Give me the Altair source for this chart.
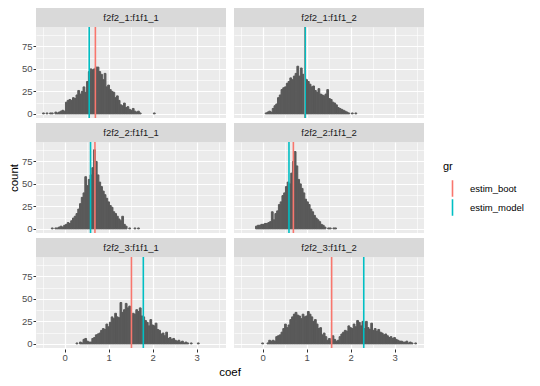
import altair as alt
import pandas as pd

BIN_W = 0.04
F2 = ["f2f2_1", "f2f2_1", "f2f2_2", "f2f2_2", "f2f2_3", "f2f2_3"]
F1 = ["f1f1_1", "f1f1_2", "f1f1_1", "f1f1_2", "f1f1_1", "f1f1_2"]

# first bin centre of each panel, then counts per 0.04-wide bin
start_centres = [-0.48, 0.08, -0.28, -0.14, 0.28, 0.00]
counts_11 = [1, 0, 1, 0, 1, 1, 0, 2, 1, 2, 3, 4, 3, 13, 15, 16, 15, 18, 17, 21,
             26, 22, 25, 30, 24, 36, 47, 50, 49, 50, 52, 52, 47, 44, 38, 45, 30, 32, 27, 25,
             24, 18, 20, 15, 10, 9, 12, 7, 8, 5, 4, 6, 3, 2, 3, 1, 0, 0, 0, 0, 0, 0, 0, 1]
counts_12 = [1, 2, 3, 2, 6, 9, 11, 18, 21, 27, 29, 30, 34, 36, 40, 38, 42, 45, 53, 42,
             51, 44, 40, 38, 36, 33, 30, 31, 26, 24, 28, 22, 21, 20, 22, 27, 17, 16, 13, 12,
             10, 7, 6, 5, 4, 3, 2, 1, 0, 1, 0, 1]
counts_21 = [1, 0, 1, 1, 2, 3, 2, 4, 5, 7, 6, 9, 12, 14, 17, 22, 28, 35, 40, 58,
             48, 55, 60, 68, 88, 75, 60, 52, 47, 42, 38, 34, 30, 26, 24, 19, 17, 14, 11, 9,
             14, 5, 3, 0, 1, 0, 0, 1, 0, 1]
counts_22 = [3, 4, 4, 5, 5, 6, 6, 7, 8, 19, 10, 17, 20, 27, 30, 37, 40, 47, 52, 50,
             62, 75, 86, 70, 55, 50, 45, 40, 33, 30, 27, 22, 19, 15, 12, 10, 8, 5, 4, 2,
             0, 1, 1, 0, 1, 1]
counts_31 = [1, 0, 2, 1, 5, 6, 3, 2, 2, 6, 7, 10, 11, 12, 15, 17, 16, 22, 19, 24,
             30, 28, 34, 30, 29, 46, 35, 38, 45, 40, 42, 32, 34, 33, 38, 36, 40, 31, 30, 26,
             24, 20, 27, 21, 20, 23, 16, 15, 11, 12, 9, 13, 6, 7, 5, 6, 4, 3, 4, 2,
             3, 1, 2, 1, 0, 1, 0, 0, 0, 1]
counts_32 = [1, 0, 0, 1, 4, 3, 4, 3, 8, 9, 10, 13, 17, 22, 18, 21, 27, 30, 33, 35,
             32, 31, 28, 33, 30, 31, 36, 33, 30, 25, 27, 22, 17, 18, 10, 12, 8, 4, 6, 3,
             9, 5, 3, 4, 8, 11, 13, 15, 14, 20, 18, 17, 22, 19, 26, 24, 20, 25, 17, 25,
             18, 16, 23, 15, 17, 14, 16, 13, 12, 10, 11, 9, 7, 8, 6, 7, 5, 4, 3, 3,
             2, 2, 3, 1, 2, 1, 0, 1]
all_counts = [counts_11, counts_12, counts_21, counts_22, counts_31, counts_32]

estim_boot = [0.70, 0.96, 0.69, 0.70, 1.52, 1.57]
estim_model = [0.56, 0.97, 0.59, 0.60, 1.79, 2.30]
groups = ["estim_boot", "estim_model"]
colors = ["#F8766D", "#00BFC4"]

rows = []
for i in range(6):
    label = F2[i] + ":" + F1[i]
    for j, c in enumerate(all_counts[i]):
        if c > 0:
            left = start_centres[i] - BIN_W / 2 + j * BIN_W
            rows.append(dict(kind="hist", f2=F2[i], f1=F1[i], label=label,
                             x=left, x2=left + BIN_W, count=c, gr=None))
    rows.append(dict(kind="line", f2=F2[i], f1=F1[i], label=label, x=estim_boot[i], gr=groups[0]))
    rows.append(dict(kind="line", f2=F2[i], f1=F1[i], label=label, x=estim_model[i], gr=groups[1]))
    rows.append(dict(kind="strip", f2=F2[i], f1=F1[i], label=label))
df = pd.DataFrame(rows)

W, H, STRIP = 190, 91, 19
FONT = "Liberation Sans"

x_scale = alt.Scale(domain=[-0.65, 3.67], nice=False, zero=False)
y_scale = alt.Scale(domain=[-4.6, 96.6], nice=False, zero=False)

x_axis = alt.Axis(
    title=None, values=[-0.5, 0, 0.5, 1, 1.5, 2, 2.5, 3, 3.5],
    labelExpr="datum.value % 1 === 0 ? format(datum.value, 'd') : ''",
    grid=True, gridColor="white",
    gridWidth={"condition": {"test": "datum.value % 1 !== 0", "value": 0.6}, "value": 1.2},
    tickOpacity={"condition": {"test": "datum.value % 1 !== 0", "value": 0}, "value": 1},
    domain=False, tickColor="#333333", tickSize=3, labelColor="#4D4D4D",
    labelFontSize=9.5, labelPadding=0, labelFont=FONT, labelOverlap=False,
)
y_axis = alt.Axis(
    title=None, values=[0, 12.5, 25, 37.5, 50, 62.5, 75, 87.5],
    labelExpr="datum.value % 25 === 0 ? format(datum.value, 'd') : ''",
    grid=True, gridColor="white",
    gridWidth={"condition": {"test": "datum.value % 25 !== 0", "value": 0.6}, "value": 1.2},
    tickOpacity={"condition": {"test": "datum.value % 25 !== 0", "value": 0}, "value": 1},
    domain=False, tickColor="#333333", tickSize=3, labelColor="#4D4D4D",
    labelFontSize=9.5, labelPadding=1, labelFont=FONT, labelOverlap=False,
)

base = alt.Chart()

hist = base.mark_rect(color="#595959", stroke="#595959", strokeWidth=1.0).encode(
    x=alt.X("x:Q", scale=x_scale, axis=x_axis),
    x2="x2:Q",
    y=alt.Y("count:Q", scale=y_scale, axis=y_axis),
    y2=alt.datum(0),
).transform_filter("datum.kind === 'hist'")

vlines = base.mark_rule(strokeWidth=1.6).encode(
    x=alt.X("x:Q", scale=x_scale, axis=x_axis),
    color=alt.Color(
        "gr:N",
        scale=alt.Scale(domain=groups, range=colors),
        legend=alt.Legend(
            title="gr", orient="none", legendX=407, legendY=134,
            symbolType="M0,-1L0,1", symbolSize=280, symbolStrokeWidth=1.6,
            titleFontSize=11, titleFont=FONT, titleFontWeight="normal", titleColor="black",
            labelFontSize=9.5, labelFont=FONT, labelColor="black", rowPadding=2,
            clipHeight=17, titlePadding=8, labelOffset=8,
        ),
    ),
).transform_filter("datum.kind === 'line'")

strip_rect = base.mark_rect(color="#D9D9D9").encode(
    x=alt.value(0), x2=alt.value(W), y=alt.value(-STRIP), y2=alt.value(0)
).transform_filter("datum.kind === 'strip'")

strip_text = base.mark_text(font=FONT, fontSize=9.5, color="#1A1A1A", baseline="middle", align="center").encode(
    x=alt.value(W / 2), y=alt.value(-STRIP / 2), text="label:N"
).transform_filter("datum.kind === 'strip'")

layered = alt.layer(hist, vlines, strip_rect, strip_text, data=df).properties(width=W, height=H)

chart = layered.facet(
    row=alt.Row("f2:N", title="count",
                header=alt.Header(labels=False, titleOrient="left", titleFontSize=11.5,
                                  titleFont=FONT, titleFontWeight="normal", titleColor="black",
                                  titlePadding=-9)),
    column=alt.Column("f1:N", title="coef",
                      header=alt.Header(labels=False, titleOrient="bottom", titleFontSize=11.5,
                                        titleFont=FONT, titleFontWeight="normal", titleColor="black",
                                        titlePadding=-5)),
    spacing={"row": 4, "column": 8},
).configure_view(fill="#EBEBEB", stroke=None).properties(padding={"left": 0, "top": 0, "right": 0, "bottom": 0})

chart.save("out.html", embed_options={"renderer": "svg", "actions": False})
